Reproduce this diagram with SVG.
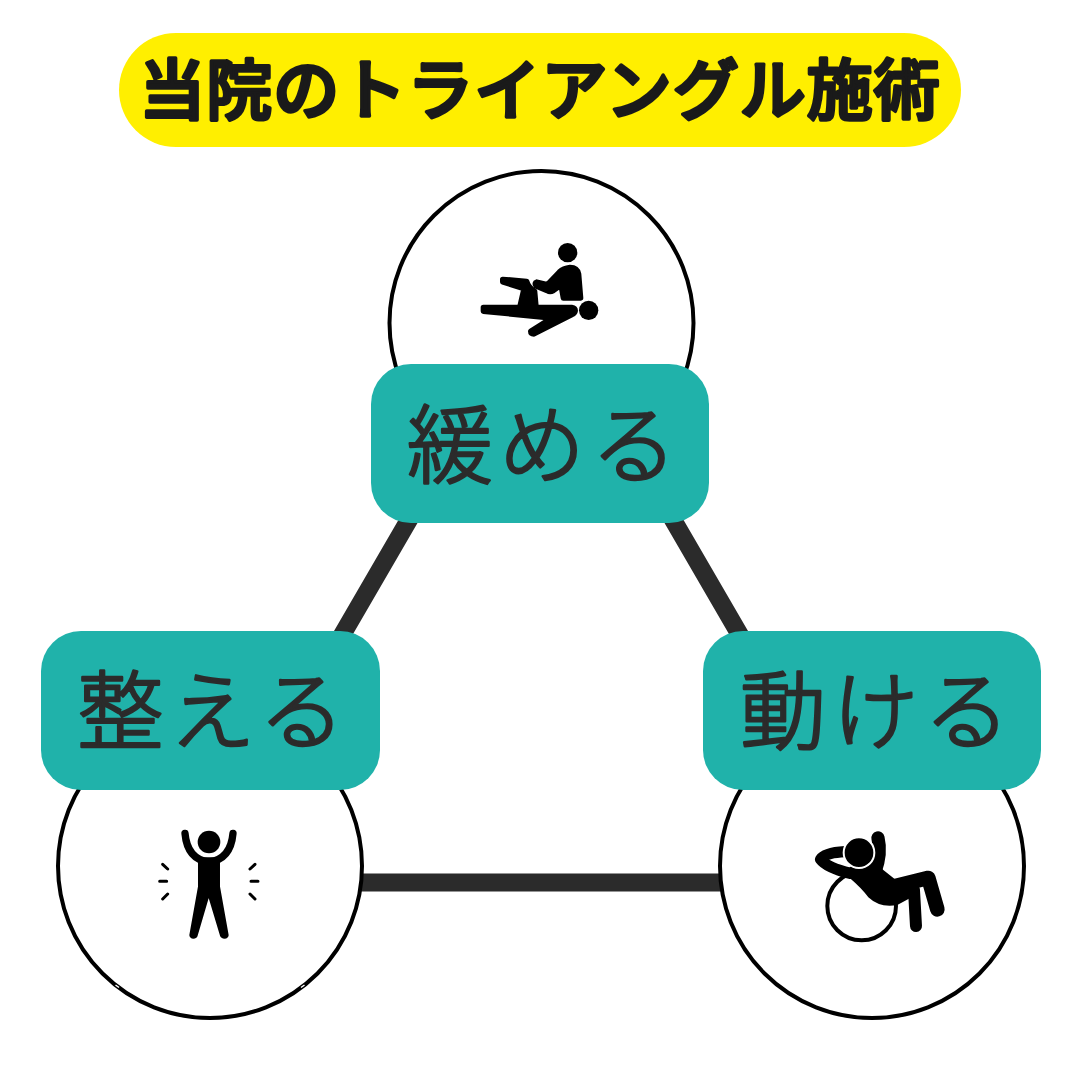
<svg xmlns="http://www.w3.org/2000/svg" width="1080" height="1080" viewBox="0 0 1080 1080">
<style>
.ring{fill:#fff;stroke:#000;stroke-width:4}
.box{fill:#20b2aa}
.lab{font-family:"Noto Sans CJK JP","Noto Sans",sans-serif;font-size:86px;font-weight:300;fill:#2b2b2b;stroke:#2b2b2b;stroke-width:2.500;stroke-linejoin:round;stroke-linecap:round;text-anchor:middle;letter-spacing:6px}
.link{stroke:#2b2b2b;stroke-width:18;fill:none}
.tick{stroke:#000;stroke-width:9;stroke-linecap:round;fill:none}
.limb{stroke:#000;fill:none;stroke-linecap:round;stroke-linejoin:round}
.solid{stroke:#000;stroke-width:16;stroke-linejoin:round}
</style>
<rect width="1080" height="1080" fill="#fff"/>
<g id="connectors">
<path class="link" d="M410 518L338 642M672 518L744 642M350 882.500H730"/>
</g>
<g id="title">
<rect x="119" y="33" width="842" height="114" rx="57" fill="#ffef00"/>
<text x="540" y="114" font-family="'Noto Sans CJK JP','Noto Sans',sans-serif" font-size="66" font-weight="500" fill="#1a1a1a" stroke="#1a1a1a" stroke-width="3.500" stroke-linejoin="round" text-anchor="middle" letter-spacing="1">当院のトライアングル施術</text>
</g>
<g id="node-top">
<circle class="ring" cx="541.500" cy="323" r="152"/>
<g transform="translate(460 230) scale(.3333)">
<circle cx="323" cy="68" r="29"/><circle cx="386" cy="241" r="29"/>
<path class="solid" stroke-width="10" d="M330 112Q352 112 356 132L362 204H310L303 165L280 182Q270 188 262 182L228 168Q222 158 230 156L262 164L298 126Q310 114 330 112Z"/>
<path class="solid" d="M70 232H335Q346 234 346 242Q345 250 336 254L222 312Q212 312 212 304L275 264L70 244Z"/>
<path class="solid" d="M128 148L200 154Q205 172 224 184L228 228H180L192 176L128 156Z"/>
</g>
<rect class="box" x="371" y="364" width="338" height="159" rx="40"/>
<text class="lab" x="545" y="477">緩める</text>
</g>
<g id="node-left">
<circle class="ring" cx="210" cy="866" r="152"/>
<path d="M115.500 985L119 987.500M304.500 985L301 987.500" stroke="#fff" stroke-width="1.500"/>
<g transform="translate(140 810) scale(.3333)">
<circle cx="207" cy="96" r="34"/>
<path class="limb" stroke-width="22" d="M135 70Q142 148 207 156Q272 148 279 70"/>
<path class="solid" d="M182 150H232V230L258 376Q254 380 248 376L206 236L165 376Q160 380 156 376L182 230Z"/>
<path class="tick" d="M68 163L83 177M59 214H80M68 267L83 252M345 163L330 177M333 214H354M345 267L330 252"/>
</g>
<rect class="box" x="41" y="631" width="339" height="159" rx="40"/>
<text class="lab" x="214" y="743">整える</text>
</g>
<g id="node-right">
<circle class="ring" cx="872" cy="866" r="152"/>
<g transform="translate(800 810) scale(.3333)">
<circle cx="185" cy="288" r="103" fill="none" stroke="#000" stroke-width="12"/>
<path class="limb" stroke-width="34" d="M135 125Q75 128 62 148Q80 172 150 190"/>
<path class="limb" stroke-width="40" d="M234 84Q245 130 225 185"/>
<path d="M140 180L200 130L250 180L285 208L335 262L292 285Q240 295 205 262Q185 235 150 205Z"/>
<path class="limb" stroke-width="44" d="M270 232L385 204L412 298"/>
<path class="limb" stroke-width="36" d="M310 250L342 240L348 348"/>
<circle cx="177" cy="128" r="46" stroke="#fff" stroke-width="6"/>
</g>
<rect class="box" x="703" y="631" width="338" height="159" rx="40"/>
<text class="lab" x="878" y="743">動ける</text>
</g>
</svg>
